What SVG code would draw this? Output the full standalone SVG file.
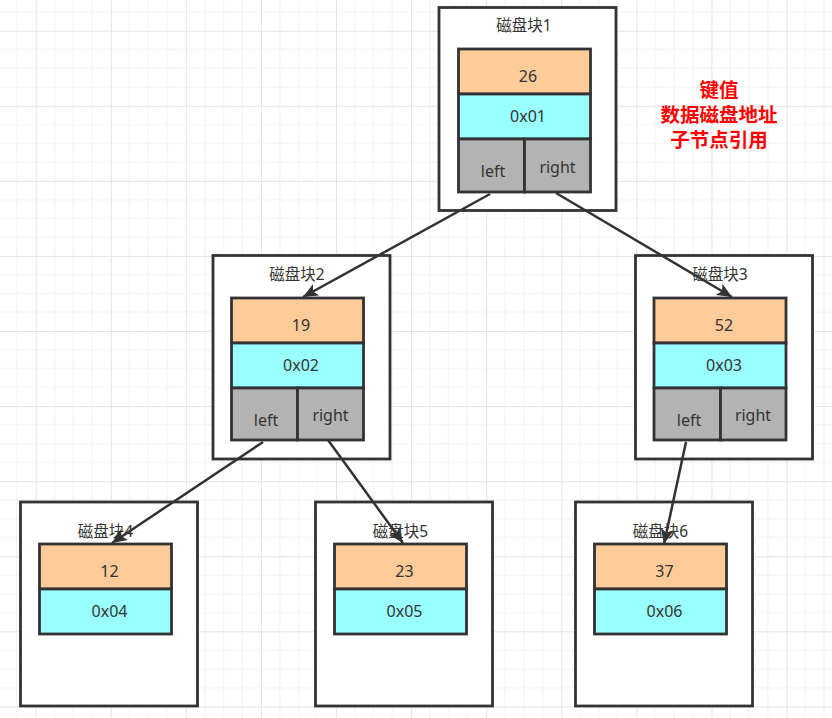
<svg xmlns="http://www.w3.org/2000/svg" width="832" height="718" viewBox="0 0 832 718">
<defs>
<pattern id="grid" patternUnits="userSpaceOnUse" x="-39.38" y="-44.38" width="75.08" height="75.08">
<path d="M18.77 0V75.08M37.54 0V75.08M56.31 0V75.08M0 18.77H75.08M0 37.54H75.08M0 56.31H75.08" stroke="#f0f0f0" stroke-width="1" fill="none"/>
<path d="M0.5 0V75.08M0 0.5H75.08" stroke="#e3e3e3" stroke-width="1" fill="none"/>
</pattern>
<marker id="arr" markerUnits="userSpaceOnUse" markerWidth="17" markerHeight="13" refX="15" refY="6.5" orient="auto">
<path d="M0 0L15 6.5L0 13L3.5 6.5Z" fill="#333"/>
</marker>
<style>
.outer{fill:#fff;stroke:#333;stroke-width:2.8}
.key{fill:#FFCC99;stroke:#333;stroke-width:2.8}
.addr{fill:#99FFFF;stroke:#333;stroke-width:2.8}
.ref{fill:#B3B3B3;stroke:#333;stroke-width:2.8}
.lbl{font-family:"Noto Sans","Noto Sans CJK SC",sans-serif;font-size:15.5px;fill:#333;text-anchor:middle}
.val{font-family:"Noto Sans","Noto Sans CJK SC",sans-serif;font-size:16px;fill:#333;text-anchor:middle}
.edge{stroke:#333;stroke-width:2.5;fill:none;marker-end:url(#arr)}
.note{font-family:"Noto Sans CJK SC",sans-serif;font-size:19.5px;font-weight:bold;fill:#ff0000;text-anchor:middle}
</style>
</defs>
<rect width="832" height="718" fill="#fff"/>
<rect width="832" height="718" fill="url(#grid)"/>

<g id="block1">
<rect class="outer" x="439" y="7.5" width="177" height="203"/>
<text class="lbl" x="524" y="31">磁盘块1</text>
<rect class="key" x="458.5" y="49" width="132" height="45"/>
<rect class="addr" x="458.5" y="94" width="132" height="45"/>
<rect class="ref" x="458.5" y="139" width="66" height="53"/>
<rect class="ref" x="524.5" y="139" width="66" height="53"/>
<text class="val" x="528" y="82">26</text>
<text class="val" x="528" y="122">0x01</text>
<text class="val" x="493" y="177">left</text>
<text class="val" x="557.5" y="173">right</text>
</g>

<g id="block2">
<rect class="outer" x="213" y="255.5" width="177" height="203.5"/>
<text class="lbl" x="297" y="280">磁盘块2</text>
<rect class="key" x="231.5" y="298" width="132" height="45"/>
<rect class="addr" x="231.5" y="343" width="132" height="45"/>
<rect class="ref" x="231.5" y="388" width="66" height="52"/>
<rect class="ref" x="297.5" y="388" width="66" height="52"/>
<text class="val" x="301" y="331">19</text>
<text class="val" x="301" y="371">0x02</text>
<text class="val" x="266" y="426">left</text>
<text class="val" x="330.5" y="421">right</text>
</g>

<g id="block3">
<rect class="outer" x="635.5" y="255.5" width="177" height="203.5"/>
<text class="lbl" x="720" y="280">磁盘块3</text>
<rect class="key" x="654" y="298" width="132" height="45"/>
<rect class="addr" x="654" y="343" width="132" height="45"/>
<rect class="ref" x="654" y="388" width="66.5" height="52"/>
<rect class="ref" x="720.5" y="388" width="65.5" height="52"/>
<text class="val" x="724" y="331">52</text>
<text class="val" x="724" y="371">0x03</text>
<text class="val" x="689" y="426">left</text>
<text class="val" x="753" y="421">right</text>
</g>

<g id="block4">
<rect class="outer" x="20.5" y="502" width="177" height="204"/>
<text class="lbl" x="105.5" y="537">磁盘块4</text>
<rect class="key" x="39.5" y="544" width="132" height="45"/>
<rect class="addr" x="39.5" y="589" width="132" height="45"/>
<text class="val" x="109.5" y="577">12</text>
<text class="val" x="109.5" y="617">0x04</text>
</g>

<g id="block5">
<rect class="outer" x="315.5" y="502" width="177" height="204"/>
<text class="lbl" x="400.5" y="537">磁盘块5</text>
<rect class="key" x="334.5" y="544" width="132" height="45"/>
<rect class="addr" x="334.5" y="589" width="132" height="45"/>
<text class="val" x="404.5" y="577">23</text>
<text class="val" x="404.5" y="617">0x05</text>
</g>

<g id="block6">
<rect class="outer" x="575.5" y="502" width="177" height="204"/>
<text class="lbl" x="660.5" y="537">磁盘块6</text>
<rect class="key" x="594.5" y="544" width="132" height="45"/>
<rect class="addr" x="594.5" y="589" width="132" height="45"/>
<text class="val" x="664.5" y="577">37</text>
<text class="val" x="664.5" y="617">0x06</text>
</g>

<g id="connectors">
<line class="edge" x1="490" y1="194" x2="303" y2="297"/>
<line class="edge" x1="556" y1="193" x2="732" y2="297"/>
<line class="edge" x1="263" y1="442" x2="112" y2="543"/>
<line class="edge" x1="328" y1="440" x2="403" y2="543"/>
<line class="edge" x1="686" y1="442" x2="664" y2="544"/>
</g>

<g id="legend">
<text class="note" x="719" y="97">键值</text>
<text class="note" x="719" y="122">数据磁盘地址</text>
<text class="note" x="719" y="147">子节点引用</text>
</g>
</svg>
